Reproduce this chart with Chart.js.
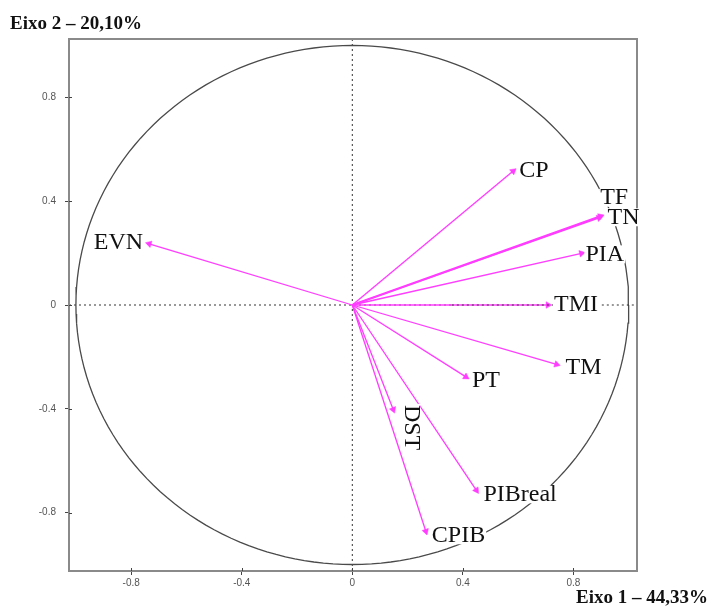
<!DOCTYPE html>
<html>
<head>
<meta charset="utf-8">
<script src="https://cdn.jsdelivr.net/npm/chart.js@4.4.1/dist/chart.umd.min.js"></script>
<style>
  html, body { margin: 0; padding: 0; background: #ffffff; }
  #wrap { width: 714px; height: 606px; position: relative; }
</style>
</head>
<body>
<div id="wrap"><canvas id="c" width="714" height="606"></canvas></div>
<script>
// ---- data ----
const variables = ["CP", "TF", "TN", "PIA", "TMI", "TM", "PT", "DST", "PIBreal", "CPIB", "EVN"];
const axis1 = [0.582, 0.893, 0.898, 0.829, 0.708, 0.739, 0.411, 0.148, 0.449, 0.266, -0.735];
const axis2 = [0.516, 0.336, 0.342, 0.199, 0.000, -0.229, -0.277, -0.403, -0.714, -0.872, 0.236];
const xTicks = [-0.8, -0.4, 0, 0.4, 0.8];
const yTicks = [-0.8, -0.4, 0, 0.4, 0.8];
const xTitle = "Eixo 1 – 44,33%";
const yTitle = "Eixo 2 – 20,10%";

// ---- styling / placement (not data) ----
const X_MIN = -1.025, X_MAX = 1.03, Y_MIN = -1.025, Y_MAX = 1.025;
const labelPlacement = {
  CP:      { dx: 6,  dy: 0,   align: "left" },
  TF:      { dx: 1,  dy: -20, align: "left" },
  TN:      { dx: 7,  dy: 1,   align: "left" },
  PIA:     { dx: 4,  dy: 1,   align: "left" },
  TMI:     { dx: 6,  dy: 0,   align: "left" },
  TM:      { dx: 9,  dy: 3,   align: "left" },
  PT:      { dx: 6,  dy: 4,   align: "left" },
  DST:     { dx: 18, dy: 18,  align: "center", rotate: true },
  PIBreal: { dx: 7,  dy: 4,   align: "left" },
  CPIB:    { dx: 6,  dy: 4,   align: "left" },
  EVN:     { dx: -6, dy: -1,  align: "right" }
};
const ARROW = "#ff3cff";
const SERIF = "'Liberation Serif', 'Times New Roman', serif";

// unit circle (reference shape)
const circlePts = [];
for (let a = 0; a <= 360; a += 2) {
  const r = a * Math.PI / 180;
  circlePts.push({ x: Math.cos(r), y: Math.sin(r) });
}

function arrowRotation(ctx) {
  const raw = ctx.raw;
  const xs = ctx.chart.scales.x, ys = ctx.chart.scales.y;
  if (!raw || !xs || !ys) return 0;
  const dx = xs.getPixelForValue(raw.x) - xs.getPixelForValue(0);
  const dy = ys.getPixelForValue(raw.y) - ys.getPixelForValue(0);
  return Math.atan2(dx, -dy) * 180 / Math.PI;
}

const datasets = [];
datasets.push({
  label: "circle", data: circlePts, showLine: true, borderColor: "#4a4a4a",
  borderWidth: 1.3, pointRadius: 0, tension: 0, order: 3
});
datasets.push({
  label: "vaxis", data: [{ x: 0, y: Y_MIN }, { x: 0, y: Y_MAX }], showLine: true,
  borderColor: "#333", borderWidth: 1, borderDash: [2, 3], pointRadius: 0, order: 3
});
datasets.push({
  label: "haxisL", data: [{ x: X_MIN, y: 0 }, { x: 0.36, y: 0 }], showLine: true,
  borderColor: "#333", borderWidth: 1, borderDash: [2, 3], pointRadius: 0, order: 3
});
variables.forEach((v, i) => {
  datasets.push({
    label: v,
    data: [{ x: 0, y: 0 }, { x: axis1[i], y: axis2[i] }],
    showLine: true,
    borderColor: ARROW,
    backgroundColor: ARROW,
    borderWidth: v === "TN" ? 2.2 : 1.3,
    pointStyle: "triangle",
    pointRadius: (ctx) => ctx.dataIndex === 0 ? 0 : 3.8,
    pointBorderWidth: 0.5,
    pointBorderColor: ARROW,
    pointBackgroundColor: ARROW,
    pointRotation: arrowRotation,
    order: 1
  });
});
datasets.push({
  label: "haxisR", data: [{ x: 0.36, y: 0 }, { x: X_MAX, y: 0 }], showLine: true,
  borderColor: "#333", borderWidth: 1, borderDash: [2, 3], pointRadius: 0, order: 0
});

const framePlugin = {
  id: "frame",
  afterDraw(chart) {
    const { ctx, chartArea: a, scales } = chart;
    ctx.save();
    // frame
    ctx.strokeStyle = "#8a8a8a";
    ctx.lineWidth = 2;
    ctx.strokeRect(a.left, a.top, a.right - a.left, a.bottom - a.top);
    // inner tick parts
    ctx.strokeStyle = "#444";
    ctx.lineWidth = 1;
    xTicks.forEach(t => {
      const px = Math.round(scales.x.getPixelForValue(t)) + 0.5;
      ctx.beginPath(); ctx.moveTo(px, a.bottom); ctx.lineTo(px, a.bottom - 3); ctx.stroke();
    });
    yTicks.forEach(t => {
      const py = Math.round(scales.y.getPixelForValue(t)) + 0.5;
      ctx.beginPath(); ctx.moveTo(a.left, py); ctx.lineTo(a.left + 3, py); ctx.stroke();
    });

    // variable labels on white boxes
    ctx.font = "24px " + SERIF;
    ctx.textBaseline = "middle";
    variables.forEach((v, i) => {
      const p = labelPlacement[v];
      const px = scales.x.getPixelForValue(axis1[i]) + p.dx;
      const py = scales.y.getPixelForValue(axis2[i]) + p.dy;
      const w = ctx.measureText(v).width;
      ctx.save();
      ctx.translate(px, py);
      if (p.rotate) ctx.rotate(Math.PI / 2);
      let x0 = p.align === "left" ? 0 : (p.align === "right" ? -w : -w / 2);
      ctx.fillStyle = "#ffffff";
      ctx.fillRect(x0 - 1, -9, w + 2, 18);
      ctx.fillStyle = "#111";
      ctx.textAlign = p.align;
      ctx.fillText(v, 0, 0);
      ctx.restore();
    });

    // axis titles
    ctx.fillStyle = "#111";
    ctx.font = "bold 19px " + SERIF;
    ctx.textBaseline = "alphabetic";
    ctx.textAlign = "left";
    ctx.fillText(yTitle, 10, 29);
    ctx.textAlign = "right";
    ctx.fillText(xTitle, 708, 603);
    ctx.restore();
  }
};

const tickFont = { family: "'Liberation Sans', Arial, sans-serif", size: 10 };

new Chart(document.getElementById("c"), {
  type: "scatter",
  data: { datasets },
  options: {
    responsive: false,
    animation: false,
    layout: { padding: { left: 0, top: 39, right: 77, bottom: 0 } },
    plugins: { legend: { display: false }, tooltip: { enabled: false } },
    scales: {
      x: {
        type: "linear", min: X_MIN, max: X_MAX,
        afterBuildTicks: (s) => { s.ticks = xTicks.map(v => ({ value: v })); },
        afterFit: (s) => { s.height = 35; },
        ticks: { font: tickFont, color: "#555", padding: 2, maxRotation: 0,
                 callback: (v) => String(Math.round(v * 10) / 10) },
        grid: { display: true, drawOnChartArea: false, drawTicks: true, tickLength: 4, color: "#444" },
        border: { display: false }
      },
      y: {
        type: "linear", min: Y_MIN, max: Y_MAX,
        afterBuildTicks: (s) => { s.ticks = yTicks.map(v => ({ value: v })); },
        afterFit: (s) => { s.width = 69; },
        ticks: { font: tickFont, color: "#555", padding: 9,
                 callback: (v) => String(Math.round(v * 10) / 10) },
        grid: { display: true, drawOnChartArea: false, drawTicks: true, tickLength: 4, color: "#444" },
        border: { display: false }
      }
    }
  },
  plugins: [framePlugin]
});
</script>
</body>
</html>
